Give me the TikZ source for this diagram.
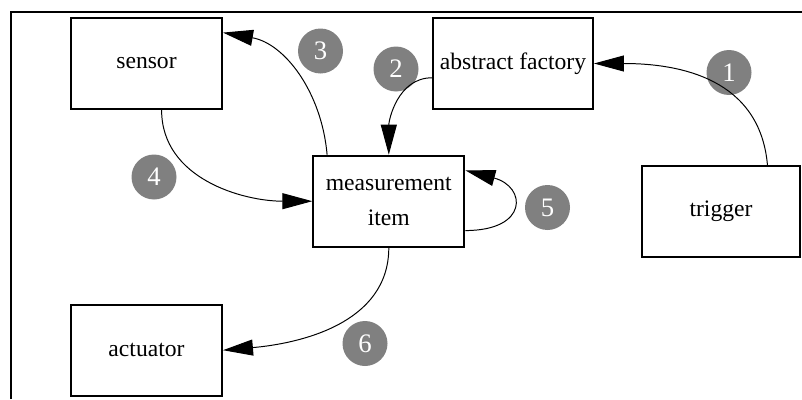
\documentclass[tikz,border=0pt]{standalone}
\usepackage{fontspec}
\setmainfont{Liberation Serif}
\usetikzlibrary{arrows.meta}
\begin{document}
\begin{tikzpicture}[scale=0.5]
\tikzstyle{box}=[draw,line width=1.4pt,minimum width=3.775cm,minimum height=2.275cm,align=center,font=\fontsize{16.8}{25}\selectfont]
\tikzstyle{num}=[shape=circle,fill=gray,text=white,minimum size=1.125cm,inner sep=0pt,font=\fontsize{19}{19}\selectfont]
\tikzstyle{flow}=[line width=0.7pt,-{Triangle[length=0.75cm,width=0.4cm]}]
\useasboundingbox (0,0) rectangle (40.1,19.95);
\draw[line width=1.4pt] (0.55,0) -- (0.55,19.35) -- (40.1,19.35);
\node[box] at (7.325,16.775) (sensor) {sensor};
\node[box,minimum width=4cm] at (25.65,16.775) (absfactory) {abstract factory};
\node[box] at (19.44,9.89) (mitem) {measurement\\item};
\node[box,minimum width=3.95cm] at (36.05,9.365) (trigger) {trigger};
\node[box] at (7.325,2.44) (actuator) {actuator};
\node[num] at (36.45,16.325) (n1) {1};
\node[num] at (19.8,16.5) (n2) {2};
\node[num] at (16.025,17.4) (n3) {3};
\node[num] at (7.7,11.1) (n4) {4};
\node[num] at (27.375,9.575) (n5) {5};
\node[num] at (18.25,2.775) (n6) {6};
\draw[flow] (trigger.45) to[out=95,in=0,looseness=1.1] (absfactory.east);
\draw[flow] (absfactory.190) to[out=180,in=90] (mitem.north);
\draw[flow] (mitem.143) to[out=95,in=-10] (sensor.22);
\draw[flow] (sensor.-72) to[out=-90,in=180] (mitem.west);
\draw[flow] (mitem.-21) to[out=0,in=-15,looseness=2.7] (mitem.22);
\draw[flow] (mitem.south) to[out=-90,in=5] (actuator.east);
\end{tikzpicture}
\end{document}
